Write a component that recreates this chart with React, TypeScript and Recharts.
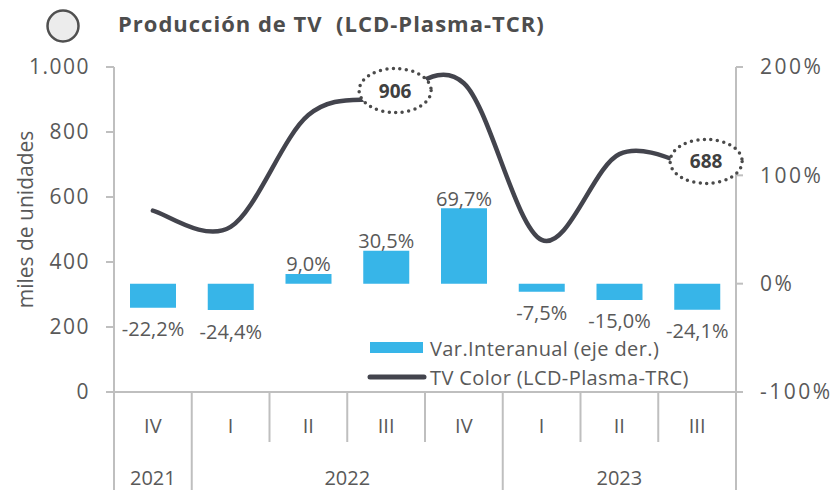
import {
  ComposedChart,
  Bar,
  Line,
  XAxis,
  YAxis,
  Legend,
  LabelList,
} from "recharts";

const quarters = ["IV", "I", "II", "III", "IV", "I", "II", "III"];
const years = ["2021", "2022", "2022", "2022", "2022", "2023", "2023", "2023"];
const tvColor = [558, 508, 852, 906, 950, 468, 732, 688];
const varInteranual = [-22.2, -24.4, 9.0, 30.5, 69.7, -7.5, -15.0, -24.1];
const calloutIdx = [3, 7];

const leftTicks = [0, 200, 400, 600, 800, 1000];
const rightTicks = [-100, 0, 100, 200];

const data = quarters.map((q, i) => ({
  q,
  year: years[i],
  tv: tvColor[i],
  var: varInteranual[i],
  callout: calloutIdx.includes(i) ? tvColor[i] : null,
}));

const GRAY = "#595959";
const AXIS = "#bfbfbf";
const FONT = '"Open Sans", sans-serif';

// Excel-like smoothed line (catmull-rom style bezier)
const smoothCurve = (context: any) => {
  let pts: number[][] = [];
  return {
    areaStart() {},
    areaEnd() {},
    lineStart() {
      pts = [];
    },
    point(x: number, y: number) {
      pts.push([+x, +y]);
    },
    lineEnd() {
      if (!pts.length) return;
      context.moveTo(pts[0][0], pts[0][1]);
      for (let i = 0; i < pts.length - 1; i++) {
        const p0 = pts[i - 1] || pts[i];
        const p1 = pts[i];
        const p2 = pts[i + 1];
        const p3 = pts[i + 2] || p2;
        context.bezierCurveTo(
          p1[0] + (p2[0] - p0[0]) / 6,
          p1[1] + (p2[1] - p0[1]) / 6,
          p2[0] - (p3[0] - p1[0]) / 6,
          p2[1] - (p3[1] - p1[1]) / 6,
          p2[0],
          p2[1]
        );
      }
    },
  };
};

const fmtThousands = (v: number) =>
  String(v).replace(/\B(?=(\d{3})+(?!\d))/g, ".");

const fmtPct = (v: number) => v.toFixed(1).replace(".", ",") + "%";

const XTick = (props: any) => {
  const { x, y, payload } = props;
  const i = payload.index;
  const half = payload.offset || 38.9;
  const year = years[i];
  const first = years.indexOf(year);
  const last = years.lastIndexOf(year);
  return (
    <g>
      <line
        x1={x - half}
        x2={x - half}
        y1={y}
        y2={i === first ? y + 98 : y + 50}
        stroke={AXIS}
        strokeWidth={2}
      />
      {i === years.length - 1 && (
        <line x1={x + half} x2={x + half} y1={y} y2={y + 98} stroke={AXIS} strokeWidth={2} />
      )}
      <text
        x={x}
        y={y + 33}
        textAnchor="middle"
        dominantBaseline="central"
        fill={GRAY}
        fontSize={20}
        fontFamily={FONT}
      >
        {payload.value}
      </text>
      {i === first && (
        <text
          x={x + (last - first) * half}
          y={y + 85}
          textAnchor="middle"
          dominantBaseline="central"
          fill={GRAY}
          fontSize={20}
          fontFamily={FONT}
        >
          {year}
        </text>
      )}
    </g>
  );
};

const BarLabel = (props: any) => {
  const { x, y, width, height, value } = props;
  const top = Math.min(y, y + height);
  const bottom = Math.max(y, y + height);
  const ty = value >= 0 ? top - 10 : bottom + 21;
  return (
    <text
      x={x + width / 2}
      y={ty}
      textAnchor="middle"
      dominantBaseline="central"
      fill={GRAY}
      fontSize={20}
      fontFamily={FONT}
    >
      {fmtPct(value)}
    </text>
  );
};

const Callout = (props: any) => {
  const { x, y, value } = props;
  if (value == null) return null;
  const cx = x + 9;
  const cy = y - 7;
  return (
    <g>
      <ellipse
        cx={cx}
        cy={cy}
        rx={36}
        ry={22}
        fill="#fff"
        stroke="#4a4a4a"
        strokeWidth={3.5}
        strokeDasharray="0 6.5"
        strokeLinecap="round"
      />
      <text
        x={cx}
        y={cy}
        textAnchor="middle"
        dominantBaseline="central"
        fill="#404040"
        fontSize={19}
        fontWeight={700}
        fontFamily={FONT}
      >
        {value}
      </text>
    </g>
  );
};

const LegendBox = () => (
  <svg width={360} height={60}>
    <rect x={6} y={9} width={53} height={11} fill="#37b5e8" />
    <text x={66} y={15} dominantBaseline="central" fill={GRAY} fontSize={20} letterSpacing={0.4} fontFamily={FONT}>
      Var.Interanual (eje der.)
    </text>
    <line x1={6} x2={60} y1={44} y2={44} stroke="#43444d" strokeWidth={5} strokeLinecap="round" />
    <text x={66} y={44} dominantBaseline="central" fill={GRAY} fontSize={20} letterSpacing={0.4} fontFamily={FONT}>
      TV Color (LCD-Plasma-TRC)
    </text>
  </svg>
);

const YLabel = (props: any) => {
  const { viewBox } = props;
  const cx = 25;
  const cy = viewBox.y + viewBox.height / 2 - 10;
  return (
    <text
      x={cx}
      y={cy}
      transform={`rotate(-90 ${cx} ${cy})`}
      textAnchor="middle"
      dominantBaseline="central"
      fill={GRAY}
      fontSize={21}
      fontFamily={FONT}
    >
      miles de unidades
    </text>
  );
};

export default function App() {
  return (
    <div
      style={{
        position: "absolute",
        left: 0,
        top: 0,
        width: 832,
        height: 490,
        background: "#fff",
        fontFamily: FONT,
      }}
    >
      <svg
        width={832}
        height={60}
        style={{ position: "absolute", left: 0, top: 0, pointerEvents: "none" }}
      >
        <circle cx={63} cy={26} r={15.5} fill="#ececec" stroke="#505050" strokeWidth={2.5} />
        <text x={118} y={23} dominantBaseline="central" fill="#4d4d4d" fontSize={22} letterSpacing={1} fontWeight={700} fontFamily={FONT}>
          Producción de TV{"\u00a0"} (LCD-Plasma-TCR)
        </text>
      </svg>
      <ComposedChart
        width={832}
        height={490}
        data={data}
        margin={{ top: 67, right: 0, bottom: 0, left: 0 }}
      >
        <XAxis
          dataKey="q"
          interval={0}
          height={98}
          tickSize={0}
          tickMargin={0}
          tickLine={false}
          axisLine={{ stroke: AXIS, strokeWidth: 2 }}
          tick={<XTick />}
        />
        <YAxis
          yAxisId="left"
          width={114}
          domain={[0, 1000]}
          ticks={leftTicks}
          tickFormatter={fmtThousands}
          tickSize={8}
          tickMargin={16}
          axisLine={{ stroke: AXIS, strokeWidth: 2 }}
          tickLine={{ stroke: AXIS, strokeWidth: 2 }}
          tick={{ fill: GRAY, fontSize: 21, fontFamily: FONT, letterSpacing: 1.5 }}
          label={<YLabel />}
        />
        <YAxis
          yAxisId="right"
          orientation="right"
          width={96}
          domain={[-100, 200]}
          ticks={rightTicks}
          tickFormatter={(v: number) => v + "%"}
          tickSize={7}
          tickMargin={17}
          axisLine={{ stroke: AXIS, strokeWidth: 2 }}
          tickLine={{ stroke: AXIS, strokeWidth: 2 }}
          tick={{ fill: GRAY, fontSize: 21, fontFamily: FONT, letterSpacing: 2.5, textAnchor: "start" }}
        />
        <Legend
          layout="horizontal"
          verticalAlign="middle"
          align="center"
          content={<LegendBox />}
          wrapperStyle={{ position: "absolute", left: 364, top: 333, width: 360, height: 60 }}
        />
        <Bar
          yAxisId="right"
          dataKey="var"
          fill="#37b5e8"
          barSize={46}
          isAnimationActive={false}
        >
          <LabelList dataKey="var" content={<BarLabel />} />
        </Bar>
        <Line
          yAxisId="left"
          dataKey="tv"
          type={smoothCurve as any}
          stroke="#43444d"
          strokeWidth={4.5}
          strokeLinecap="round"
          dot={false}
          activeDot={false}
          isAnimationActive={false}
        >
          <LabelList dataKey="callout" content={<Callout />} />
        </Line>
      </ComposedChart>
    </div>
  );
}
